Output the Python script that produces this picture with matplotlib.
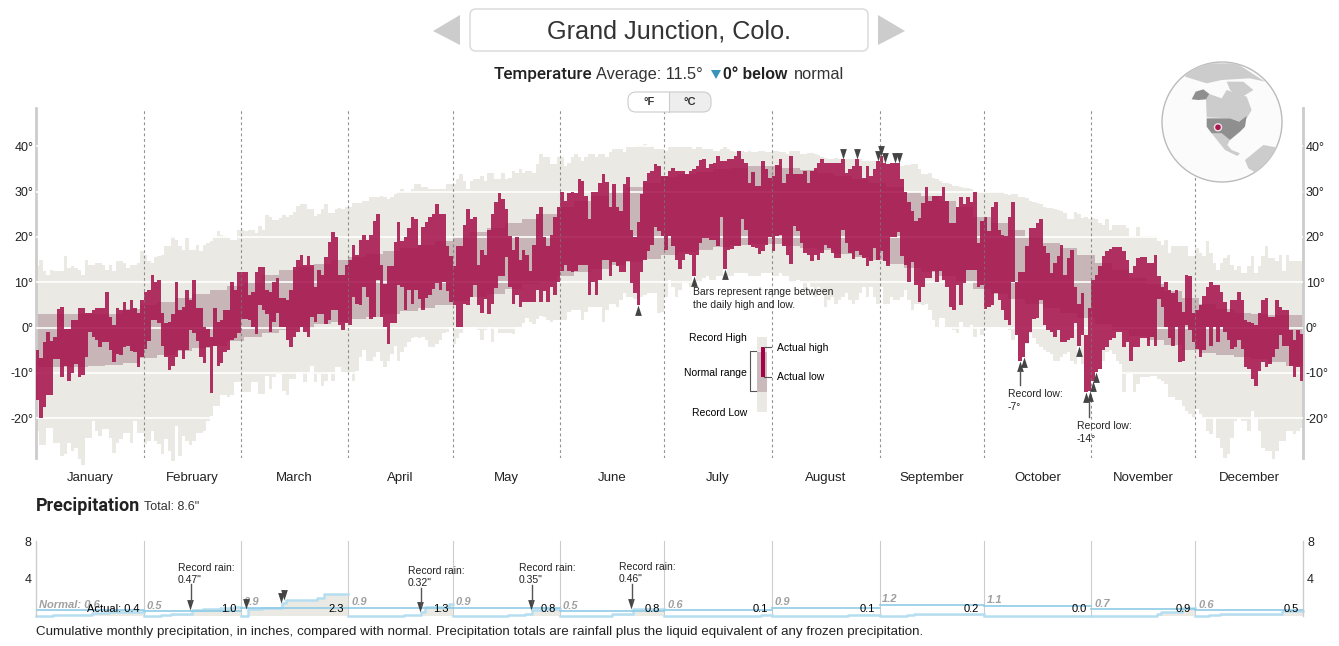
import numpy as np
import matplotlib
matplotlib.use("Agg")
import matplotlib.pyplot as plt
from matplotlib.patches import Polygon, Circle, FancyBboxPatch, Rectangle
from matplotlib.path import Path
from matplotlib.transforms import blended_transform_factory

months = ["January", "February", "March", "April", "May", "June", "July",
          "August", "September", "October", "November", "December"]
month_days = [31, 28, 31, 30, 31, 30, 31, 31, 30, 31, 30, 31]

# daily temperatures in deg C
daily_high = [
    -5,-6.7,-3.3,-1,-3,-2,4,4.5,-0.4,-0.4,1.7,1.7,4.4,4.4,3.3,3.3,3.9,4.4,4.4,4.4,7.8,2.4,0.5,4.4,3.9,5.6,3.9,6,4.4,3.3,6,
    7.8,8.3,11.6,10,10.5,3.3,1,1.2,3,10,3.9,4.6,8.3,6,10.5,4.4,4.4,0.1,-0.4,-2,4.4,1.3,1.7,3.9,3.9,10,8.3,12.2,
    12.2,12.2,7.2,7.8,12.2,13.3,13.3,8.3,7.8,10,11,6.6,6.6,6,8.3,13.3,15,16,13.9,15.7,13.9,8.9,12.7,11.6,15.5,18.9,21,20,11.6,11.6,13.9,
    15,18.3,16,19.4,20.5,19.4,20.5,23.5,25.1,13.9,9.6,13.5,13.5,18.9,23.3,19,20,21.9,24.4,24,18.3,22.1,23.3,24.4,25.1,27.3,25.1,25.1,17.9,15.7,
    13.5,17.9,17.9,22.7,26.2,23.9,24.4,13.9,17.2,16,21.6,25.1,27.8,29.6,28.3,26.2,20.3,17.2,20,15,17.2,16,12.4,18.3,25.1,26.7,20,17.9,20.5,24.4,26.7,
    30,27.9,29.6,30,29.6,32.7,32.4,29,24,29.8,30,32,33.9,32.1,26.7,31.6,26.7,25.7,31.6,33.3,21.6,20,23.3,29.4,32.4,34.2,34.6,36,35.7,33.5,
    33.5,34.6,35.1,34.6,34.6,34.6,33.9,34.6,35,35.7,37,37.3,35.3,36.1,36.3,37.8,36.8,36.8,37.2,37.3,37.9,39,37.2,36.4,32,34.4,31.3,31.3,36.7,35,33.1,
    33.5,35.9,37.3,32,33.9,37.8,33.9,33.9,33.9,34.6,32,34.6,35.3,36.4,37.2,36.4,36.4,36.4,36.4,36.4,37.3,34,35,35.7,37.3,35.7,33,35.7,33.5,35,36.8,
    37.8,36.4,36,36.3,36.3,36.3,32.7,30,27.6,25.7,23.5,24.2,27.4,31.1,27.9,29,29,29,31.1,27.9,23.1,23.1,26.7,28.9,27.2,28.9,27.7,30,18.7,23.5,
    24.4,21.3,26.7,27.7,21.6,20.5,20.1,24.4,27.7,10.1,12.2,12.2,18,21.9,21.9,23,24,17.9,16.4,12,14.2,15.7,18.3,11.6,15.3,17.2,9,5.3,7.7,-1.7,4.2,
    10.5,11.6,13.5,15.7,16.8,17.3,17.8,17.8,17.8,16.8,15,12,13.5,15.3,15.5,15.5,14.2,14.2,16,11.3,9,10,8.3,7.6,8.3,5.7,3.5,11.6,11.3,3.3,
    3.9,5,7,9,10,9.4,9.4,7.8,5.7,3.5,6,6,7.8,6,1.6,1.3,0.9,0.5,3.3,6,6.6,2.4,2.4,6,4.6,3.9,3.9,-0.6,-2.8,-0.6,-1.5,
]
daily_low = [
    -16,-20,-17.6,-15,-15,-7,-7,-11,-8.5,-11.7,-10,-8,-11,-10.5,-6.5,-1,-2,-2.7,-4.3,-3.3,-3.3,-5,-7.6,-5.8,-6,-4.3,-4,-5.2,-5.5,-8.7,-6.5,
    -4.7,-3,1.6,1.6,1,-4,-6.5,-9.3,-8.4,-6.5,-5,-7,-5,-0.6,-1.3,-3,-6.5,-7.8,-4.3,-14.4,-4,-8.4,-7.8,-5.4,-5,-2.8,-2.4,-1.3,
    1.8,1.8,1.7,0.1,-1.5,5,3.9,3,-1,1.3,3.3,0.1,0.1,-2.7,-4.3,-2,-1,0.1,-1,-2.2,2.4,1.3,2.9,2.9,0.7,1.7,3.9,3.9,0.5,-0.6,0.9,
    0.5,6.8,5.3,5,9,6.8,1.8,2.4,10.5,2.4,0.1,-3.7,1,1,9.4,9,3.9,8.3,5.3,8.3,6.4,3.9,6.6,7.2,8.4,9.8,8.3,10.1,8,5.7,
    5,0.1,0.1,5.3,5,6.8,9.4,5,3.3,6.4,2.9,5.3,8.7,11.3,11.3,15.6,8.9,5.1,7.2,4.6,5.7,5.7,5.7,5.7,8.3,5.7,8,5.7,9,7.2,10.1,
    12.4,13.9,12.4,12.2,12.4,13.9,13.9,13.9,7.2,10.1,7.2,10.5,15,15,11.3,14.4,13.5,12.2,12.2,14.6,9.8,7.6,5,12.2,15,16.8,18.3,22.2,21.3,20.1,
    17.2,20.1,17.9,15,12.9,15,16.3,16,11.3,16,18.7,19.8,19.8,19.4,19.4,17.9,24.4,12.9,17.2,17.3,17.9,17.9,23.9,21.6,18.3,17.8,17.6,16.2,16.8,18.3,20,
    16.8,20.1,20.5,17.9,16,14,22.4,21.3,18.7,16.4,15.9,14.6,16,15,16.4,18.3,17.6,16.4,15.3,15.3,21.6,18.7,16.4,15.1,16.8,16,15.3,13.5,14.6,17.6,15,
    16.8,14.6,13.5,20,20,21,15.7,13.9,10.1,14.4,9.4,5.7,9,10.9,10.9,12.4,10.1,12.4,10.5,9,4.6,3.9,9.4,5,9.8,12.7,12.7,12.7,9,9.4,
    4,4.6,5,7.6,6.1,3.9,1.6,0.5,10.1,-1.6,-7.3,-6.5,-3.5,-1,1.9,2,6,0.5,-0.6,-1,-2,-0.6,-3.2,-3.2,-2.8,-2.4,0.9,-4,-1.7,-14.3,-14,
    -11.7,-9.9,-9.1,-5,-4.3,-2.8,-2.4,-1,-1,-4.3,-3.2,-7.3,-4.3,-4.3,-2.4,-2.4,-4,-2.2,-4,6.4,4.6,0.1,-2.4,-4,0.1,-7.6,-7.3,0.5,-0.6,-3.2,
    -4.7,-6.5,-5,0.1,-4,0.1,-3.2,0.1,-1,-2.8,-4.7,-4.3,-2.8,-4.7,-8.7,-9.1,-11.3,-12.8,-9.5,-7.6,-8.7,-8,-6.5,-4.7,-1.7,-4,-4,-8.4,-11,-8.7,-11.7,
]
record_high = [
    13.5,15,12.4,11.6,12.7,12.4,12.4,12.4,15.7,13.1,13.5,13.1,12.7,11.6,15,13.9,13.9,14.2,14.2,13.9,12.7,13.9,12.4,14.6,14.6,14.2,13.1,13.9,13.9,14.2,16.8,
    16,14.6,14.2,15.5,15.7,16,17.9,17.9,20.1,19.4,17.9,17.2,19.8,17.2,17.2,18.3,16.8,18.3,18.7,19,19.8,21.3,20.5,20.1,19.8,19.4,19.4,21.6,
    21.6,21.3,21.6,21.6,20.9,22.4,21.6,24.9,24.5,23.8,23.8,24.2,24.9,24.5,24.9,25.6,26.8,27.2,27.2,26.1,26.1,24.6,25,26.1,27.2,25.3,25.3,26.1,26.4,26.1,26.7,
    26.5,27.4,27.4,27.4,27.9,27.9,28.7,28.7,28.7,29,28.7,28.3,28.7,29.4,29.8,30.5,30,30,30.5,31.6,31.6,31,31,30.5,30.5,30.5,30.5,30.5,31.6,31.6,
    31.6,32.7,33.9,32.4,30.5,32.4,32.7,32.7,33.5,32.4,34.2,34.2,32.7,32.7,34.2,32.7,33.1,34.6,34.2,35,34.2,34.6,34.6,34.2,36.1,38.3,37.6,37.6,36.1,36.1,37.6,
    37.6,35.7,36.4,37.6,38.3,37.6,36.8,37.6,38.3,38.3,37.6,38.3,38.3,37.6,38.7,39.4,39.4,39.4,38.7,39.8,39.8,39.8,40.2,40.2,40.5,39.8,40.2,39.4,39.4,39.4,
    39,39.8,39.8,39.8,39.8,39.8,39.8,39.8,39.4,39.8,39.8,39.4,39.4,39.4,39,39,39.4,39.8,39.4,39,38.7,39,39,38.7,39,38.7,38.7,39,39,38.7,38.7,
    39,39,38.7,38.7,38.3,38.9,38.9,38.9,38.3,38.3,38.5,38.5,38.3,38,37.6,37.4,37.3,37.3,37.4,37.3,37.3,37.3,37.3,37.2,37.3,37.3,36.8,36.8,36.8,36.8,36.8,
    37.8,37.2,36.4,36.3,36.3,36.3,35.7,35.8,35.8,36.1,36.1,35,33.9,33.9,34.2,33.1,32.7,32.4,32,32,31.6,31.3,31.3,31.1,30.9,30.9,30.5,30.1,30.1,29.9,
    30.1,29.8,29.8,29.8,29.8,29.8,29.4,29.2,29.4,29.4,28.7,28.7,28.5,27.9,27.7,27.4,27.2,26.7,26.4,26.4,26.1,25.9,25.7,25.3,24,24,25.5,25,24.2,24.4,24,
    24.2,23.9,23.1,22.7,23.9,21.6,22.7,22.7,22.7,22.7,22,20.1,20.1,22.1,20.1,20.1,20.1,20.1,20.1,19,18.3,19.4,16.4,17.9,17.9,17.9,17.9,17.9,15.7,15.7,
    17.6,16.4,15.7,19,16.4,14.2,12.7,14.2,15.3,16,13.9,12.7,13.5,12,12,13.5,15.7,12,13.5,15.7,17.9,15.3,15.3,14.6,16,12.4,16,14.6,14.6,14.6,14.6,
]
record_low = [
    -22.8,-26,-26,-22.1,-22.1,-25.4,-25.4,-28.4,-28,-25.4,-27.3,-26.5,-29.1,-30.4,-24.3,-24.3,-20.6,-22.8,-23.9,-22.4,-22.4,-24.3,-27.6,-25.4,-24.7,-23.2,-23.2,-25.4,-20.6,-23.2,-23.2,
    -25.8,-25,-22.8,-25,-25.8,-28,-24.7,-27.3,-29.5,-21.7,-28.3,-23.9,-25,-26,-25,-23.2,-23.2,-22.8,-20.6,-19.5,-17.3,-17.3,-15,-15,-15.4,-15,-12,-12,
    -14.3,-14.3,-14.3,-12,-12,-14.7,-14.7,-10.6,-13.6,-11,-10.2,-10.2,-14,-15,-11.3,-11.3,-9.9,-9.9,-12,-9.9,-8.4,-12,-10.2,-12.8,-11.7,-9.9,-11.7,-8.7,-8.7,-9.9,-9.9,
    -9.9,-11.7,-9.5,-6.5,-5,-7.3,-7.3,-6.5,-5.4,-7.3,-8.7,-7.3,-5.8,-4,-7.3,-5.4,-4.3,-3.2,-2.4,-2.1,-2.4,-2.1,-2.8,-4.3,-4.3,-3.6,-2.8,-1.3,-1,0.1,
    -3.6,-2.4,-1.3,-0.2,0.1,0.1,0.1,-0.6,-2.8,-0.6,0.1,-3.2,-0.2,-1.3,-1.3,-1.3,-1.3,-1.5,0.1,0.1,1,2.2,1.3,0.7,1.8,2.5,2.4,1.6,1.3,1.6,1.6,
    1.6,1.6,3.5,3.9,3.9,3.9,1.6,3.5,4.6,4.6,4.6,4.6,1.3,3.9,5.3,5.3,4.6,6.1,7.6,6.8,6.8,6.4,5,6.8,7.2,7.6,7.6,7.6,3.3,3.5,
    6.8,10.5,9,6.8,8.3,9.8,9.8,9,11.3,9.8,9.8,10.9,11.3,10.5,10.5,11.3,11.3,12.9,11.3,11.3,12,12,12,12,11.3,11.3,11.3,11.3,12,12,12,
    11.3,11.3,12,11.3,11.3,9.8,9.8,10.5,9.8,8.3,9.8,9,6.8,9,7.6,4.6,6.1,6.8,5.3,6.1,6.8,7.6,6.1,5.3,6.1,7.6,9,6.8,9,6.8,5.3,
    9,5.3,5.3,6.8,6.1,6.1,6.8,8.3,6.1,3.9,5.3,5.3,4.9,5.3,3.9,1.6,0.1,2,2,0.1,-0.2,-0.6,-1.3,1.3,0.1,-0.2,0.5,-2.1,0.1,-1.7,
    -0.6,-0.2,0.1,0.1,0.1,-0.2,-0.2,-0.6,-2.8,-1.3,-7.3,-6.5,-3.6,-1.3,-2.4,-3.6,-4.3,-5,-5.4,-5.8,-7.3,-7.3,-6.5,-5.8,-5.4,-7.3,-8,-4,-8,-14.3,-14,
    -11.7,-9.9,-9.1,-7.3,-5.4,-5,-5.8,-7.3,-8,-14.3,-10.2,-10.2,-14.3,-12.4,-11,-11,-11,-10.6,-10.6,-11.3,-11.7,-12.4,-15.4,-15.4,-16.1,-16.1,-17.3,-18.4,-19.1,-19.9,
    -18,-19.1,-19.9,-22.8,-23.6,-19.9,-24.3,-26.5,-28.7,-28,-24.3,-20.6,-19.9,-20.6,-20.6,-22.8,-18.4,-19.9,-22.8,-26.5,-27.3,-27.3,-29.1,-27.3,-25,-25,-22.8,-22.8,-23.6,-22.8,-22.1,
]

# normal band, one value for every five days
normal_days = list(range(0, 365, 5))
normal_high = [2.9,2.9,2.9,2.9,3.0,4,5,5.7,6.5,7.5,8.2,9.2,10.3,11.5,12.8,13.4,14.1,15,15.6,16.2,16.8,17.5,18.2,19,20,21,22,23,24,25,
               26.7,28,29,30,31,32,33.2,33.8,34.4,35,35.3,35.7,35.6,35.3,34.8,34.2,33.5,32.8,32,31,30,29,28,26.5,24.5,23,21.5,20,18.7,17.5,
               16,14.2,12.7,11,9.5,8,6.5,5.2,4,3.2,2.9,2.8,2.7]
normal_low = [-8.7,-8.7,-8.7,-8.5,-8.2,-7.8,-6.8,-6,-5.2,-4.5,-4,-3,-2,-1.2,-0.5,0,0.7,1.2,1.8,2.4,3,3.6,4.2,5,5.8,6.8,7.5,8.5,9.5,10.3,
              11.3,12.2,13,13.8,14.5,15.2,16,16.7,17.2,17.8,18.2,18.5,18.5,18,17.5,17,16.3,15.6,15,14,13.2,12.2,11.3,10,8.6,7.4,6.2,5.2,4.3,3.2,
              2,0.8,-0.5,-1.8,-2.8,-3.8,-5,-5.6,-6,-6.4,-7,-7.6,-8.4]

record_high_days = [232, 236, 242, 243, 244, 247, 248]
record_low_days = [173, 189, 198, 283, 284, 300, 302, 303, 304, 305]

y_ticks = [-20, -10, 0, 10, 20, 30, 40]
y_labels = ["-20°", "-10°", "0°", "10°", "20°", "30°", "40°"]

# precipitation, inches
normal_precip = [0.6, 0.5, 0.9, 0.9, 0.9, 0.5, 0.6, 0.9, 1.2, 1.1, 0.7, 0.6]
actual_precip = [0.4, 1.0, 2.3, 1.3, 0.8, 0.8, 0.1, 0.1, 0.2, 0.0, 0.9, 0.5]
rain_days = [4, 15, 20, 35, 38, 44, 47, 52, 56, 60, 64, 70, 71, 80, 82, 105, 110, 111, 118,
             128, 135, 140, 142, 146, 160, 165, 168, 171, 175, 200, 208, 222, 233, 250, 252,
             322, 323, 329, 337, 340, 358]
rain_amounts = [0.1, 0.2, 0.1, 0.1, 0.1, 0.47, 0.1, 0.13, 0.1, 0.7, 0.2, 0.45, 0.4, 0.2, 0.35, 0.1, 0.32, 0.5, 0.38,
                0.05, 0.1, 0.1, 0.35, 0.2, 0.05, 0.15, 0.05, 0.46, 0.09, 0.05, 0.05, 0.05, 0.05, 0.15, 0.05,
                0.2, 0.2, 0.5, 0.1, 0.1, 0.3]
record_rain_days = [44, 60, 70, 71, 110, 142, 171]

W, H = 1339, 646
SANS = "Liberation Sans"
HEAD = "Roboto"
CRIMSON = "#a8154f"
BEIGE = "#eae9e3"
NORMAL = "#c7b5b7"


def tri(up):
    # triangle with its tip on the data point
    if up:
        return Path([(0, 0), (0.32, -1), (-0.32, -1), (0, 0)], closed=True)
    return Path([(0, 0), (0.32, 1), (-0.32, 1), (0, 0)], closed=True)


def draw_temperature(fig):
    ax = fig.add_axes([36/W, 1-458/H, (1303-36)/W, 350/H])
    ax.set_xlim(0, 365)
    ax.set_ylim(-28.8, 48.45)
    days = np.arange(365)
    high = np.array(daily_high)
    low = np.array(daily_low)
    rec_hi = np.array(record_high)
    rec_lo = np.array(record_low)

    ax.bar(days, rec_hi-rec_lo, bottom=rec_lo, width=1, align="edge", color=BEIGE,
           linewidth=0, antialiased=False, clip_on=False, zorder=1)
    nd = np.array(normal_days)
    nh = np.array(normal_high)
    nl = np.array(normal_low)
    ax.bar(nd, nh-nl, bottom=nl, width=5, align="edge", color=NORMAL,
           linewidth=0, antialiased=False, zorder=2)
    for t in y_ticks:
        ax.axhline(t, color="white", lw=1.2, zorder=3)
    ax.bar(days, high-low, bottom=low, width=1, align="edge", color=CRIMSON, alpha=0.88,
           linewidth=0, antialiased=False, clip_on=False, zorder=4)

    edges = np.cumsum(month_days)[:-1]
    for e in edges:
        ax.axvline(e, color="#777777", lw=0.8, dashes=(2.5, 2.5), alpha=0.8, zorder=5)

    ax.plot(np.array(record_high_days)+0.5, high[record_high_days], ls="none", marker=tri(False),
            ms=15, color="#444444", mew=0, zorder=6, clip_on=False)
    ax.plot(np.array(record_low_days)+0.5, low[record_low_days], ls="none", marker=tri(True),
            ms=15, color="#444444", mew=0, zorder=6, clip_on=False)

    for s in ["top", "bottom"]:
        ax.spines[s].set_visible(False)
    for s in ["left", "right"]:
        ax.spines[s].set_color("#cccccc")
        ax.spines[s].set_linewidth(2)
    ax.set_xticks([])
    ax.set_yticks(y_ticks)
    ax.set_yticklabels(y_labels, fontsize=9, family=SANS, color="#222222")
    ax.tick_params(axis="y", length=0, pad=2, labelright=True, right=False)
    ax.patch.set_alpha(0)

    trans = blended_transform_factory(ax.transData, fig.transFigure)
    starts = np.concatenate([[0], edges])
    for m, s, n in zip(months, starts, month_days):
        ax.text(s+n/2, 1-478/H, m, transform=trans, ha="center", va="center",
                fontsize=9.5, family=SANS, color="#222222")


def draw_precipitation(fig):
    ax = fig.add_axes([36/W, 1-616/H, (1303-36)/W, 75/H])
    ax.set_xlim(0, 365)
    ax.set_ylim(0, 8)
    edges = np.concatenate([[0], np.cumsum(month_days)])
    rain = np.zeros(365)
    rain[rain_days] = rain_amounts
    for i in range(12):
        a, b = edges[i], edges[i+1]
        x = np.arange(a, b+1)
        y = np.concatenate([[0], np.cumsum(rain[a:b])])
        ax.fill_between(x, 0, y, step="post", color=BEIGE, linewidth=0, zorder=1)
        ax.step(x, y, where="post", color="#b5def1", lw=1.8, zorder=2, clip_on=False)
        ax.plot([a, b], [normal_precip[i]]*2, color="#8fcbe6", lw=1.2, zorder=3)
        if i > 0:
            ax.axvline(a, color="#cccccc", lw=0.8, zorder=0)
        lab = "Normal: %.1f" % normal_precip[i] if i == 0 else "%.1f" % normal_precip[i]
        ax.annotate(lab, (a, normal_precip[i]), xytext=(2, 0.5), textcoords="offset points",
                    fontsize=8, style="italic", weight="bold", family=SANS, color="#a0a0a0",
                    ha="left", va="bottom", zorder=4)
        lab = "Actual: %.1f" % actual_precip[i] if i == 0 else "%.1f" % actual_precip[i]
        ax.annotate(lab, (b, 0.7), xytext=(-3, 0), textcoords="offset points",
                    fontsize=8, family=SANS, color="black", ha="right", va="center", zorder=4)
    days = np.array(record_rain_days)
    tops = []
    for d in days:
        m = np.searchsorted(edges, d, side="right")-1
        tops.append(rain[edges[m]:d+1].sum())
    ax.plot(days+0.5, tops, ls="none", marker=tri(False), ms=15, color="#444444", mew=0,
            zorder=5, clip_on=False)

    for s in ["top", "bottom"]:
        ax.spines[s].set_visible(False)
    for s in ["left", "right"]:
        ax.spines[s].set_color("#cccccc")
        ax.spines[s].set_linewidth(1)
    ax.set_xticks([])
    ax.set_yticks([4, 8])
    ax.set_yticklabels(["4", "8"], fontsize=9, family=SANS, color="#222222")
    ax.tick_params(axis="y", length=0, pad=3, labelright=True, right=False)
    ax.patch.set_alpha(0)


def globe_xy(pts):
    # outlines were traced on a 3x crop of the globe
    return [(1150+x/3, 70+y/3) for x, y in pts]


def draw_globe(ov):
    disc = Circle((1222, 122), 60, fc="#fbfbfb", ec="#bbbbbb", lw=1)
    ov.add_patch(disc)
    light = [
        [(168, 88), (178, 72), (215, 85), (230, 60), (290, 80), (305, 120), (290, 145), (270, 155), (240, 145), (170, 142)],
        [(230, 35), (280, 35), (310, 60), (270, 85), (240, 60)],
        [(105, 20), (130, -20), (260, -20), (345, 35), (300, 25), (215, 30), (170, 40)],
        [(185, 190), (215, 190), (240, 210), (232, 225), (245, 240), (270, 250), (262, 258), (225, 240), (205, 215)],
        [(285, 270), (340, 225), (395, 235), (360, 270), (320, 310), (295, 295)],
    ]
    for p in light:
        s = Polygon(globe_xy(p), fc="#cccccc", ec="none")
        ov.add_patch(s)
        s.set_clip_path(disc)
    dark = [
        [(137, 65), (160, 58), (178, 72), (168, 88), (145, 90), (125, 88)],
        [(170, 145), (240, 145), (268, 155), (290, 138), (285, 170), (270, 185), (240, 210), (215, 190), (185, 190), (170, 170)],
    ]
    for p in dark:
        ov.add_patch(Polygon(globe_xy(p), fc="#8f8f8f", ec="none"))
    ov.add_patch(Circle((1218, 127.3), 3.5, fc=CRIMSON, ec="#f4dfe7", lw=1))


def draw_overlay(fig):
    ov = fig.add_axes([0, 0, 1, 1], zorder=10)
    ov.set_xlim(0, W)
    ov.set_ylim(H, 0)
    ov.axis("off")

    # header
    ov.add_patch(Polygon([(433, 31), (460, 15), (460, 45)], fc="#cccccc", ec="none"))
    ov.add_patch(Polygon([(905, 31), (878, 15), (878, 45)], fc="#cccccc", ec="none"))
    ov.add_patch(FancyBboxPatch((470, 9), 398, 42, boxstyle="round,pad=0,rounding_size=6", fc="white", ec="#d8d8d8", lw=1))
    ov.text(669, 31, "Grand Junction, Colo.", ha="center", va="center", fontsize=18.2, family=SANS, color="#333333")
    ov.text(494, 74, "Temperature", ha="left", va="center", fontsize=12.3, family=HEAD, weight="medium", color="#222222")
    ov.text(596, 74.5, "Average: 11.5°", ha="left", va="center", fontsize=11.8, family=SANS, color="#333333")
    ov.add_patch(Polygon([(711, 70), (721, 70), (716, 79)], fc="#3a93b8", ec="none"))
    ov.text(723, 74.5, "0° below", ha="left", va="center", fontsize=11.4, family=SANS, weight="bold", color="#222222")
    ov.text(794, 74.5, "normal", ha="left", va="center", fontsize=11.8, family=SANS, color="#333333")

    # unit switch
    ov.add_patch(FancyBboxPatch((628, 92), 83, 20, boxstyle="round,pad=0,rounding_size=8", fc="white", ec="none"))
    clip = FancyBboxPatch((628, 92), 83, 20, boxstyle="round,pad=0,rounding_size=8", transform=ov.transData, fc="none", ec="#cccccc", lw=0.8, zorder=3)
    ov.add_patch(clip)
    r = Rectangle((669, 92), 42, 20, fc="#eeeeee", ec="none", zorder=2)
    ov.add_patch(r)
    r.set_clip_path(clip)
    ov.plot([669, 669], [92, 112], color="#cccccc", lw=0.8)
    ov.text(649, 102, "°F", ha="center", va="center", fontsize=8, family=SANS, weight="bold", color="#333333", zorder=4)
    ov.text(690, 102, "°C", ha="center", va="center", fontsize=8, family=SANS, weight="bold", color="#333333", zorder=4)

    draw_globe(ov)

    # notes on the temperature chart
    note = dict(ha="left", va="center", fontsize=7.5, family=SANS, color="#222222")
    ov.text(693, 292, "Bars represent range between", **note)
    ov.text(693, 305, "the daily high and low.", **note)
    ov.text(1008, 394, "Record low:", **note)
    ov.text(1008, 407, "-7°", **note)
    ov.text(1077, 426, "Record low:", **note)
    ov.text(1077, 439, "-14°", **note)
    ov.plot([1019.5, 1019.5], [370, 385], color="#555555", lw=1)
    ov.plot([1089, 1089], [402, 417], color="#555555", lw=1)

    # legend key
    ov.add_patch(Rectangle((757, 337), 10, 75, fc=BEIGE, ec="none"))
    ov.add_patch(Rectangle((757, 352), 10, 40, fc=NORMAL, ec="none", alpha=0.9))
    ov.add_patch(Rectangle((761, 347), 3.5, 30, fc="#a5004a", ec="none"))
    ov.plot([756, 750, 750, 756], [351, 351, 391, 391], color="#555555", lw=0.8)
    ov.plot([764, 771], [347, 347], color="#555555", lw=0.8)
    ov.plot([764, 771], [377, 377], color="#555555", lw=0.8)
    key = dict(va="center", fontsize=7.5, family=SANS, color="black")
    ov.text(747, 338, "Record High", ha="right", **key)
    ov.text(747, 373, "Normal range", ha="right", **key)
    ov.text(747, 413, "Record Low", ha="right", **key)
    ov.text(777, 348, "Actual high", ha="left", **key)
    ov.text(777, 377, "Actual low", ha="left", **key)

    # precipitation heading and caption
    ov.text(36, 506, "Precipitation", ha="left", va="center", fontsize=13, family=HEAD, weight="bold", color="#222222")
    ov.text(144, 507, 'Total: 8.6"', ha="left", va="center", fontsize=9, family=SANS, color="#333333")
    ov.text(36, 632, "Cumulative monthly precipitation, in inches, compared with normal. Precipitation totals are rainfall plus the liquid equivalent of any frozen precipitation.",
            ha="left", va="center", fontsize=9.65, family=SANS, color="#222222")
    rain_notes = [(178, 568, '0.47"', 190.5, 584), (408, 571, '0.32"', 420.5, 588),
                  (519, 568, '0.35"', 531.5, 585), (619, 567, '0.46"', 632, 584)]
    for x, y, val, sx, sy in rain_notes:
        ov.text(x, y, "Record rain:", **note)
        ov.text(x, y+12, val, **note)
        ov.plot([sx, sx], [sy, sy+18], color="#555555", lw=1)


def main():
    fig = plt.figure(figsize=(W/100, H/100), dpi=100, facecolor="white")
    draw_temperature(fig)
    draw_precipitation(fig)
    draw_overlay(fig)
    fig.savefig("out.png", dpi=100, facecolor="white")


if __name__ == "__main__":
    main()
